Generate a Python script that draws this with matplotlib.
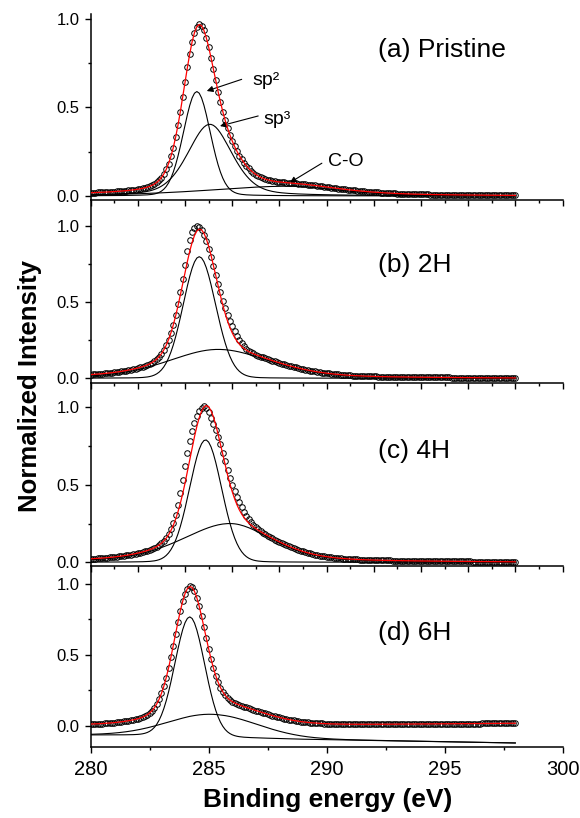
import numpy as np
import matplotlib
matplotlib.use("Agg")
import matplotlib.pyplot as plt
from matplotlib.ticker import MultipleLocator

plt.rcParams["font.family"] = ["Liberation Sans", "DejaVu Sans"]

# measurement grid of the C1s scans (0.1 eV step)
energy = np.round(np.arange(280.0, 298.05, 0.1), 2)

# fitted components:
# (centre eV, height, left HWHM, right HWHM, lorentzian fraction)
fit_a = [(284.50, 0.590, 0.675, 0.675, 0.10),   # sp2
         (285.05, 0.405, 1.10, 1.10, 0.35),     # sp3
         (288.40, 0.055, 4.00, 2.50, 0.50)]     # C-O
fit_b = [(284.60, 0.800, 0.80, 0.82, 0.05),
         (285.40, 0.190, 2.50, 2.60, 0.30)]
fit_c = [(284.87, 0.790, 0.80, 0.80, 0.05),
         (285.90, 0.250, 2.40, 2.10, 0.40)]
fit_d = [(284.20, 0.840, 0.745, 0.745, 0.05),
         (285.20, 0.160, 2.20, 2.20, 0.10)]

# where the measured points leave the fit: (centre eV, residual, HWHM)
dev_a = []
dev_b = [(284.20, 0.070, 0.30), (284.95, -0.020, 0.25), (285.95, 0.045, 0.45)]
dev_c = [(284.15, 0.120, 0.38), (285.15, -0.050, 0.25), (286.20, 0.050, 0.50)]
dev_d = []

# spectrum baselines (eV, value)
base_e = [280.0, 289.0, 298.0]
base_a = [0.004, 0.003, 0.000]
base_b = [0.008, 0.004, 0.000]
base_c = [0.005, 0.004, 0.000]
base_d = [0.005, 0.004, 0.017]

# offset under the drawn components in panel (d)
comp_bg_e = [280.0, 283.0, 284.2, 285.5, 289.0, 298.0]
comp_bg_d = [-0.066, -0.068, -0.072, -0.082, -0.096, -0.122]

labels = ["(a) Pristine", "(b) 2H", "(c) 4H", "(d) 6H"]
label_y = [0.825, 0.745, 0.718, 0.654]


def peak(e, c, h, wl, wr, eta):
    w = np.where(e < c, wl, wr)
    u = ((e - c) / w) ** 2
    return h * (eta / (1.0 + u) + (1.0 - eta) * np.exp(-np.log(2.0) * u))


def fit_curve(peaks, base):
    return sum(peak(energy, *p) for p in peaks) + np.interp(energy, base_e, base)


def measured(peaks, base, dev):
    y = fit_curve(peaks, base)
    for c, a, w in dev:
        y = y + peak(energy, c, a, w, w, 0.0)
    return y


W, H = 580, 818
L_PX, R_PX = 90.7, 562.5


def box(top, bottom):
    return [L_PX / W, (H - bottom) / H, (R_PX - L_PX) / W, (bottom - top) / H]


panels = [
    dict(fit=fit_a, dev=dev_a, base=base_a, bg=None,
         rect=box(13.7, 200.0), ylim=(-0.023, 1.03)),
    dict(fit=fit_b, dev=dev_b, base=base_b, bg=None,
         rect=box(200.0, 382.7), ylim=(-0.029, 1.173)),
    dict(fit=fit_c, dev=dev_c, base=base_c, bg=None,
         rect=box(382.7, 566.0), ylim=(-0.024, 1.159)),
    dict(fit=fit_d, dev=dev_d, base=base_d, bg=comp_bg_d,
         rect=box(566.0, 746.7), ylim=(-0.148, 1.127)),
]

fig = plt.figure(figsize=(W / 100, H / 100), dpi=100)
axes = []
for i, p in enumerate(panels):
    ax = fig.add_axes(p["rect"])
    ax.patch.set_alpha(0)
    axes.append(ax)

    offset = np.zeros_like(energy)
    if p["bg"] is not None:
        offset = np.interp(energy, comp_bg_e, p["bg"])
    for pk in p["fit"]:
        ax.plot(energy, peak(energy, *pk) + offset, color="black", lw=0.8, zorder=2)

    ax.plot(energy, measured(p["fit"], p["base"], p["dev"]), ls="none", marker="o",
            ms=4.0, mfc="none", mec="black", mew=0.7, zorder=3)
    ax.plot(energy, fit_curve(p["fit"], p["base"]), color="red", lw=0.9, zorder=4)

    ax.set_xlim(280, 300)
    ax.set_ylim(*p["ylim"])
    ax.yaxis.set_major_locator(MultipleLocator(0.5))
    ax.yaxis.set_minor_locator(MultipleLocator(0.25))
    for s in ("top", "right"):
        ax.spines[s].set_visible(False)
    for s in ("left", "bottom"):
        ax.spines[s].set_linewidth(1.1)
    ax.tick_params(which="major", direction="out", length=4.3, width=1.0,
                   labelsize=12)
    ax.tick_params(which="minor", direction="out", length=2.4, width=1.0)
    ax.text(292.2, label_y[i], labels[i], fontsize=19, va="center", ha="left")

    if i < 3:
        ax.xaxis.set_major_locator(MultipleLocator(2))
        ax.xaxis.set_minor_locator(MultipleLocator(1))
        ax.tick_params(axis="x", labelbottom=False)
    else:
        ax.xaxis.set_major_locator(MultipleLocator(5))
        ax.xaxis.set_minor_locator(MultipleLocator(2.5))
        ax.tick_params(axis="x", labelsize=14.5, pad=5)

arrow = dict(arrowstyle="-|>", color="black", lw=0.8, mutation_scale=9,
             shrinkA=0, shrinkB=0)
ax = axes[0]
ax.annotate("", xy=(284.92, 0.593), xytext=(286.4, 0.659), arrowprops=arrow)
ax.text(286.85, 0.655, "sp²", fontsize=14, va="center")
ax.annotate("", xy=(285.48, 0.395), xytext=(287.1, 0.452), arrowprops=arrow)
ax.text(287.3, 0.43, "sp³", fontsize=14, va="center")
ax.annotate("", xy=(288.44, 0.075), xytext=(289.8, 0.185), arrowprops=arrow)
ax.text(290.07, 0.195, "C-O", fontsize=14, va="center")

fig.text(0.565, 0.022, "Binding energy (eV)", fontsize=19, fontweight="bold",
         ha="center", va="center")
fig.text(0.052, 0.528, "Normalized Intensity", fontsize=18.5, fontweight="bold",
         rotation=90, ha="center", va="center")

fig.savefig("out.png", dpi=100)
